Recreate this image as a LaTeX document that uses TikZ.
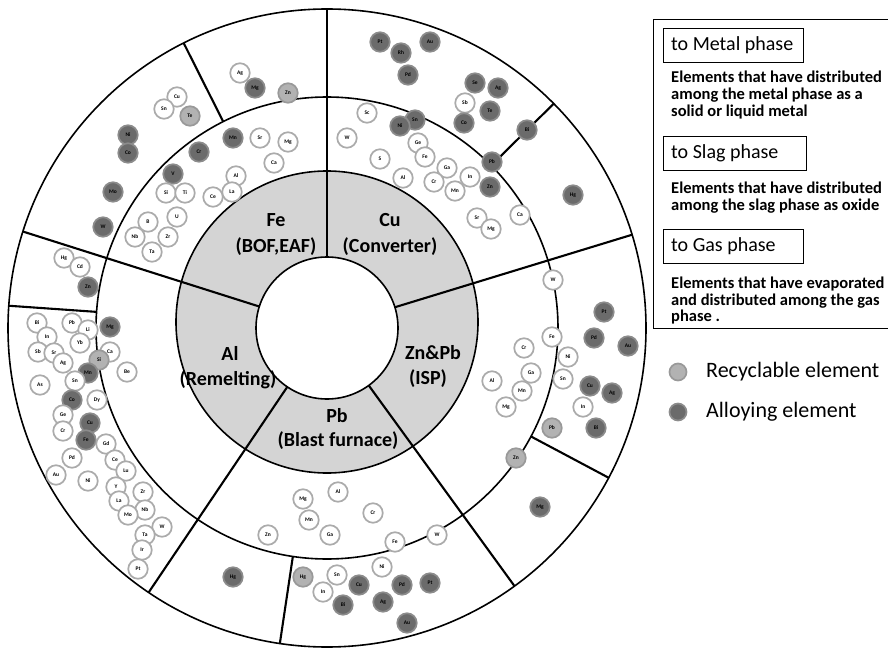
\documentclass[tikz,border=0pt]{standalone}
\usepackage{fontspec}
\setmainfont{Carlito}
\usetikzlibrary{calc}
% one element bubble: style, node name, x, y, symbol
\newcommand{\elem}[5]{\node[#1] (#2) at (#3,#4) {#5};}
\begin{document}
\begin{tikzpicture}[x=1pt,y=-1pt,
  ringline/.style={line width=1.6pt},
  divline/.style={line width=2.1pt},
  elbase/.style={circle, minimum size=19.5pt, inner sep=0pt, line width=1.7pt,
    font=\fontsize{5.5}{6}\selectfont\bfseries},
  elw/.style={elbase, draw=black!33, fill=white},
  ell/.style={elbase, draw=black!40, fill=black!30},
  eld/.style={elbase, draw=black!45, fill=black!58},
  proc/.style={font=\fontsize{20}{22}\selectfont\bfseries, inner sep=0pt},
  phasebox/.style={draw, line width=1pt, minimum height=34pt,
    anchor=north west, inner sep=0pt},
  phasetitle/.style={font=\fontsize{20}{22}\selectfont, anchor=west, inner sep=0pt},
  desc/.style={font=\fontsize{16.5}{17}\selectfont\bfseries, anchor=west, inner sep=0pt,
    text height=11.5pt, text depth=4pt},
  legtext/.style={font=\fontsize{22}{24}\selectfont, anchor=west, inner sep=0pt}
]
\useasboundingbox (0,0) rectangle (888,652);
\coordinate (C) at (327,328);
\coordinate (G) at (327,322);

% process ring
\fill[black!17, even odd rule] (G) circle (151pt) (C) circle (71pt);
\draw[ringline] (C) circle (319pt);
\draw[ringline] (C) circle (231pt);
\draw[ringline] (G) circle (151pt);
\draw[ringline] (C) circle (71pt);

% sector boundaries through all rings
\foreach \a in {90,17,306,236,162.4}
  \draw[divline] ($(C)+(-\a:71)$) -- ($(C)+(-\a:319)$);
% boundaries in the outer (gas) ring only
\foreach \a in {116.7,44.7,332,261.5,176}
  \draw[divline] ($(C)+(-\a:231)$) -- ($(C)+(-\a:319)$);

% process labels
\node[proc] (feA) at (276,220) {Fe};
\node[proc] (feB) at (276,247) {(BOF,EAF)};
\node[proc] (cuA) at (390,220) {Cu};
\node[proc] (cuB) at (390,247) {(Converter)};
\node[proc] (znA) at (433,353) {Zn\&Pb};
\node[proc] (znB) at (428,379) {(ISP)};
\node[proc] (pbA) at (337,416) {Pb};
\node[proc] (pbB) at (338,441) {(Blast furnace)};
\node[proc] (alA) at (230,353) {Al};
\node[proc] (alB) at (228,380) {(Remelting)};

% Fe sector
\elem{elw}{fe1}{240}{73}{Ag}
\elem{eld}{fe2}{255}{88}{Mg}
\elem{ell}{fe3}{288}{93}{Zn}
\elem{elw}{fe4}{177}{97}{Cu}
\elem{elw}{fe5}{164}{109}{Sn}
\elem{ell}{fe6}{190}{116}{Te}
\elem{eld}{fe7}{128}{135}{Ni}
\elem{eld}{fe8}{128}{153}{Co}
\elem{eld}{fe9}{113}{192}{Mo}
\elem{eld}{fe10}{103}{227}{W}
\elem{eld}{fe11}{233}{138}{Mn}
\elem{elw}{fe12}{260}{138}{Sr}
\elem{elw}{fe13}{288}{142}{Mg}
\elem{elw}{fe14}{274}{163}{Ca}
\elem{eld}{fe15}{199}{152}{Cr}
\elem{eld}{fe16}{173}{174}{V}
\elem{elw}{fe17}{236}{176}{Al}
\elem{elw}{fe18}{166}{193}{Si}
\elem{elw}{fe19}{185}{193}{Ti}
\elem{elw}{fe20}{213}{197}{Ce}
\elem{elw}{fe21}{232}{192}{La}
\elem{elw}{fe22}{177}{217}{U}
\elem{elw}{fe23}{148}{222}{B}
\elem{elw}{fe24}{168}{237}{Zr}
\elem{elw}{fe25}{135}{237}{Nb}
\elem{elw}{fe26}{152}{252}{Ta}

% Cu sector
\elem{eld}{cu1}{380}{42}{Pt}
\elem{eld}{cu2}{401}{53}{Rh}
\elem{eld}{cu3}{408}{75}{Pd}
\elem{eld}{cu4}{430}{42}{Au}
\elem{eld}{cu5}{475}{83}{Se}
\elem{eld}{cu6}{498}{88}{Ag}
\elem{elw}{cu7}{465}{103}{Sb}
\elem{eld}{cu8}{490}{111}{Te}
\elem{eld}{cu9}{464}{123}{Co}
\elem{eld}{cu10}{527}{130}{Bi}
\elem{eld}{cu11}{573}{195}{Hg}
\elem{elw}{cu12}{367}{113}{Sc}
\elem{elw}{cu13}{347}{138}{W}
\elem{eld}{cu14}{415}{120}{Sn}
\elem{eld}{cu15}{400}{126}{Ni}
\elem{elw}{cu16}{418}{143}{Ge}
\elem{elw}{cu17}{425}{157}{Fe}
\elem{elw}{cu18}{380}{159}{S}
\elem{elw}{cu19}{403}{178}{Al}
\elem{elw}{cu20}{447}{168}{Ga}
\elem{elw}{cu21}{434}{182}{Cr}
\elem{elw}{cu22}{470}{177}{In}
\elem{elw}{cu23}{455}{191}{Mn}
\elem{eld}{cu24}{492}{162}{Pb}
\elem{eld}{cu25}{490}{187}{Zn}
\elem{elw}{cu26}{477}{218}{Sr}
\elem{elw}{cu27}{491}{229}{Mg}
\elem{elw}{cu28}{520}{215}{Ca}

% Zn&Pb sector
\elem{elw}{zn1}{553}{280}{W}
\elem{elw}{zn2}{552}{337}{Fe}
\elem{elw}{zn3}{524}{348}{Cr}
\elem{elw}{zn4}{531}{373}{Ga}
\elem{elw}{zn5}{492}{381}{Al}
\elem{elw}{zn6}{522}{391}{Mn}
\elem{elw}{zn7}{506}{407}{Mg}
\elem{ell}{zn8}{516}{458}{Zn}
\elem{eld}{zn9}{604}{312}{Pt}
\elem{eld}{zn10}{594}{338}{Pd}
\elem{eld}{zn11}{628}{346}{Au}
\elem{elw}{zn12}{568}{357}{Ni}
\elem{elw}{zn13}{563}{379}{Sn}
\elem{eld}{zn14}{590}{386}{Cu}
\elem{eld}{zn15}{612}{393}{Ag}
\elem{elw}{zn16}{583}{407}{In}
\elem{ell}{zn17}{552}{428}{Pb}
\elem{eld}{zn18}{596}{428}{Bi}
\elem{eld}{zn19}{540}{507}{Mg}

% Pb sector
\elem{elw}{pb1}{338}{492}{Al}
\elem{elw}{pb2}{303}{499}{Mg}
\elem{elw}{pb3}{309}{520}{Mn}
\elem{elw}{pb4}{373}{513}{Cr}
\elem{elw}{pb5}{268}{535}{Zn}
\elem{elw}{pb6}{330}{535}{Ga}
\elem{elw}{pb7}{395}{542}{Fe}
\elem{elw}{pb8}{437}{535}{W}
\elem{eld}{pb9}{233}{577}{Hg}
\elem{ell}{pb10}{303}{577}{Hg}
\elem{elw}{pb11}{337}{575}{Sn}
\elem{elw}{pb12}{382}{567}{Ni}
\elem{elw}{pb13}{323}{592}{In}
\elem{eld}{pb14}{359}{585}{Cu}
\elem{eld}{pb15}{343}{605}{Bi}
\elem{eld}{pb16}{402}{585}{Pd}
\elem{eld}{pb17}{430}{583}{Pt}
\elem{eld}{pb18}{383}{602}{Ag}
\elem{eld}{pb19}{407}{623}{Au}

% Al sector
\elem{elw}{al1}{64}{258}{Hg}
\elem{elw}{al2}{80}{267}{Cd}
\elem{eld}{al3}{88}{287}{Zn}
\elem{elw}{al4}{37}{323}{Bi}
\elem{elw}{al5}{72}{323}{Pb}
\elem{elw}{al6}{88}{330}{Li}
\elem{eld}{al7}{110}{327}{Mg}
\elem{elw}{al8}{47}{337}{In}
\elem{elw}{al9}{80}{343}{Yb}
\elem{elw}{al10}{38}{352}{Sb}
\elem{elw}{al11}{54}{353}{Sr}
\elem{elw}{al12}{63}{363}{Ag}
\elem{elw}{al13}{110}{352}{Ca}
\elem{ell}{al14}{99}{360}{Si}
\elem{elw}{al15}{127}{372}{Be}
\elem{eld}{al16}{88}{373}{Mn}
\elem{elw}{al17}{75}{381}{Sn}
\elem{elw}{al18}{40}{385}{As}
\elem{eld}{al19}{72}{400}{Co}
\elem{elw}{al20}{97}{400}{Dy}
\elem{elw}{al21}{63}{415}{Ge}
\elem{eld}{al22}{90}{423}{Cu}
\elem{elw}{al23}{63}{431}{Cr}
\elem{eld}{al24}{86}{440}{Fe}
\elem{elw}{al25}{106}{444}{Gd}
\elem{elw}{al26}{72}{458}{Pd}
\elem{elw}{al27}{115}{460}{Ce}
\elem{elw}{al28}{56}{475}{Au}
\elem{elw}{al29}{88}{481}{Ni}
\elem{elw}{al30}{126}{471}{Lu}
\elem{elw}{al31}{116}{487}{Y}
\elem{elw}{al32}{143}{492}{Zr}
\elem{elw}{al33}{119}{501}{La}
\elem{elw}{al34}{145}{510}{Nb}
\elem{elw}{al35}{128}{515}{Mo}
\elem{elw}{al36}{162}{527}{W}
\elem{elw}{al37}{145}{535}{Ta}
\elem{elw}{al38}{142}{550}{Ir}
\elem{elw}{al39}{138}{569}{Pt}

% legend: phases
\draw[line width=1pt] (892,20) -- (653,20) -- (653,328) -- (892,328);
\node[phasebox, minimum width=140pt] (bm) at (663,28) {};
\node[phasetitle] (tm) at (671,45) {to Metal phase};
\node[desc] (dm1) at (671,79) {Elements that have distributed};
\node[desc] (dm2) at (671,96) {among the metal phase as a};
\node[desc] (dm3) at (671,113) {solid or liquid metal};
\node[phasebox, minimum width=143pt] (bs) at (663,136) {};
\node[phasetitle] (ts) at (671,153) {to Slag phase};
\node[desc] (ds1) at (671,190) {Elements that have distributed};
\node[desc] (ds2) at (671,207) {among the slag phase as oxide};
\node[phasebox, minimum width=140pt] (bg) at (663,229) {};
\node[phasetitle] (tg) at (671,246) {to Gas phase};
\node[desc] (dg1) at (671,285) {Elements that have evaporated};
\node[desc] (dg2) at (671,302) {and distributed among the gas};
\node[desc] (dg3) at (671,318) {phase .};

% legend: element kinds
\node[ell, minimum size=17pt] (kr) at (678,372) {};
\node[legtext] (krt) at (706,372) {Recyclable element};
\node[eld, minimum size=17pt] (ka) at (678,412) {};
\node[legtext] (kat) at (706,412) {Alloying element};
\end{tikzpicture}
\end{document}
